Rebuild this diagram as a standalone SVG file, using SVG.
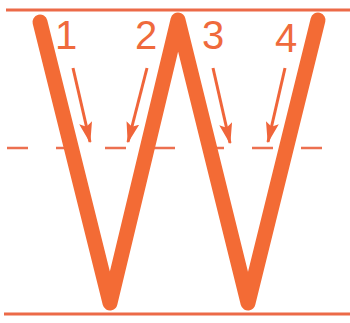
<svg xmlns="http://www.w3.org/2000/svg" width="350" height="323" viewBox="0 0 350 323">
<style>
.rule{stroke:#ec6a48;stroke-width:3;fill:none}
.mid{stroke:#ec7050;stroke-width:2.5;fill:none;stroke-dasharray:21 28}
.letter{stroke:#f36b35;stroke-width:15;fill:none;stroke-linecap:round;stroke-linejoin:round}
.arrow{stroke:#f0653a;stroke-width:3;fill:none}
.num{font-family:"Liberation Sans",Arial,sans-serif;font-size:40px;fill:#ef6a3c}
</style>
<defs>
<marker id="ah" viewBox="0 0 16 10" refX="15" refY="5" markerWidth="7" markerHeight="4.5" markerUnits="strokeWidth" orient="auto">
<path d="M0,0 L16,5 L0,10 L3,5 Z" fill="#f0653a"/>
</marker>
</defs>
<rect width="350" height="323" fill="#ffffff"/>
<g id="guides">
<line class="rule" x1="6" y1="10" x2="350" y2="10"/>
<line class="rule" x1="4" y1="314" x2="350" y2="314"/>
<line class="mid" x1="7" y1="148" x2="323" y2="148"/>
</g>
<g id="letter-W">
<path class="letter" d="M40,22 L110,303 L178,20 L248,303 L318,20"/>
</g>
<g id="labels">
<text class="num" x="55" y="49">1</text>
<text class="num" x="135" y="49">2</text>
<text class="num" x="202" y="49">3</text>
<text class="num" x="275" y="52">4</text>
</g>
<g id="connectors">
<line class="arrow" x1="73" y1="68" x2="90" y2="142" marker-end="url(#ah)"/>
<line class="arrow" x1="147" y1="68" x2="128" y2="142" marker-end="url(#ah)"/>
<line class="arrow" x1="213" y1="68" x2="230" y2="143" marker-end="url(#ah)"/>
<line class="arrow" x1="285" y1="68" x2="268" y2="142" marker-end="url(#ah)"/>
</g>
</svg>
